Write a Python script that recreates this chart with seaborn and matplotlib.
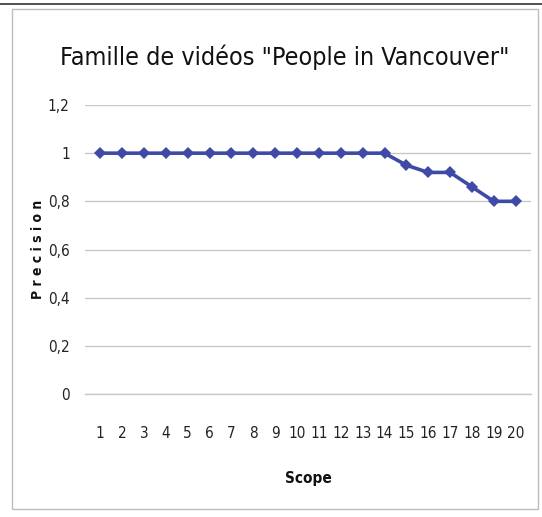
import matplotlib
matplotlib.use("Agg")
import matplotlib.pyplot as plt
import seaborn as sns
import pandas as pd
from matplotlib.patches import Rectangle

scope = list(range(1, 21))
precision = [1, 1, 1, 1, 1, 1, 1, 1, 1, 1, 1, 1, 1, 1, 0.95, 0.92, 0.92, 0.86, 0.80, 0.80]
y_ticks = [0, 0.2, 0.4, 0.6, 0.8, 1, 1.2]
y_tick_labels = ["0", "0,2", "0,4", "0,6", "0,8", "1", "1,2"]

sns.set_style("white")
plt.rcParams["font.family"] = ["DejaVu Sans"]
plt.rcParams["font.stretch"] = "condensed"

df = pd.DataFrame({"Scope": scope, "Precision": precision})

fig = plt.figure(figsize=(5.42, 5.17), dpi=100)
ax = fig.add_axes([85 / 542, 1 - 394 / 517, (531 - 85) / 542, (394 - 105) / 517])

sns.lineplot(data=df, x="Scope", y="Precision", ax=ax, color="#3f4aa6",
             linewidth=2.6, marker="D", markersize=6.5, markeredgewidth=0)

ax.set_xlim(0.3, 20.7)
ax.set_ylim(0, 1.2)
ax.set_xticks(scope)
ax.set_xticklabels([str(s) for s in scope], fontsize=11, color="#222222")
ax.set_yticks(y_ticks)
ax.set_yticklabels(y_tick_labels, fontsize=11, color="#222222")
ax.tick_params(axis="y", length=0, pad=11)
ax.tick_params(axis="x", length=0, pad=23)
ax.grid(axis="y", color="#c8c8c8", linewidth=1)
ax.grid(axis="x", visible=False)
for s in ax.spines.values():
    s.set_visible(False)
ax.spines["bottom"].set_visible(True)
ax.spines["bottom"].set_color("#c8c8c8")
ax.spines["bottom"].set_linewidth(1)
ax.set_axisbelow(True)

ax.set_xlabel("Scope", fontsize=11, fontweight="bold", labelpad=22, color="#111111")
ax.set_ylabel("P r e c i s i o n", fontsize=10, fontweight="bold", color="#111111")
ax.yaxis.set_label_coords(-0.09, 0.5)

fig.text(285 / 542, 1 - 57 / 517, 'Famille de vidéos "People in Vancouver"',
         ha="center", va="center", fontsize=18, color="#111111")

# outer chart frame
fig.patches.append(Rectangle((12 / 542, 8 / 517), (538 - 12) / 542, (508 - 8) / 517,
                             transform=fig.transFigure, fill=False,
                             edgecolor="#bdbdbd", linewidth=1))
fig.patches.append(Rectangle((0, 1 - 5 / 517), 1, 2 / 517, transform=fig.transFigure,
                             color="#555555", linewidth=0))

fig.savefig("out.png", dpi=100)
